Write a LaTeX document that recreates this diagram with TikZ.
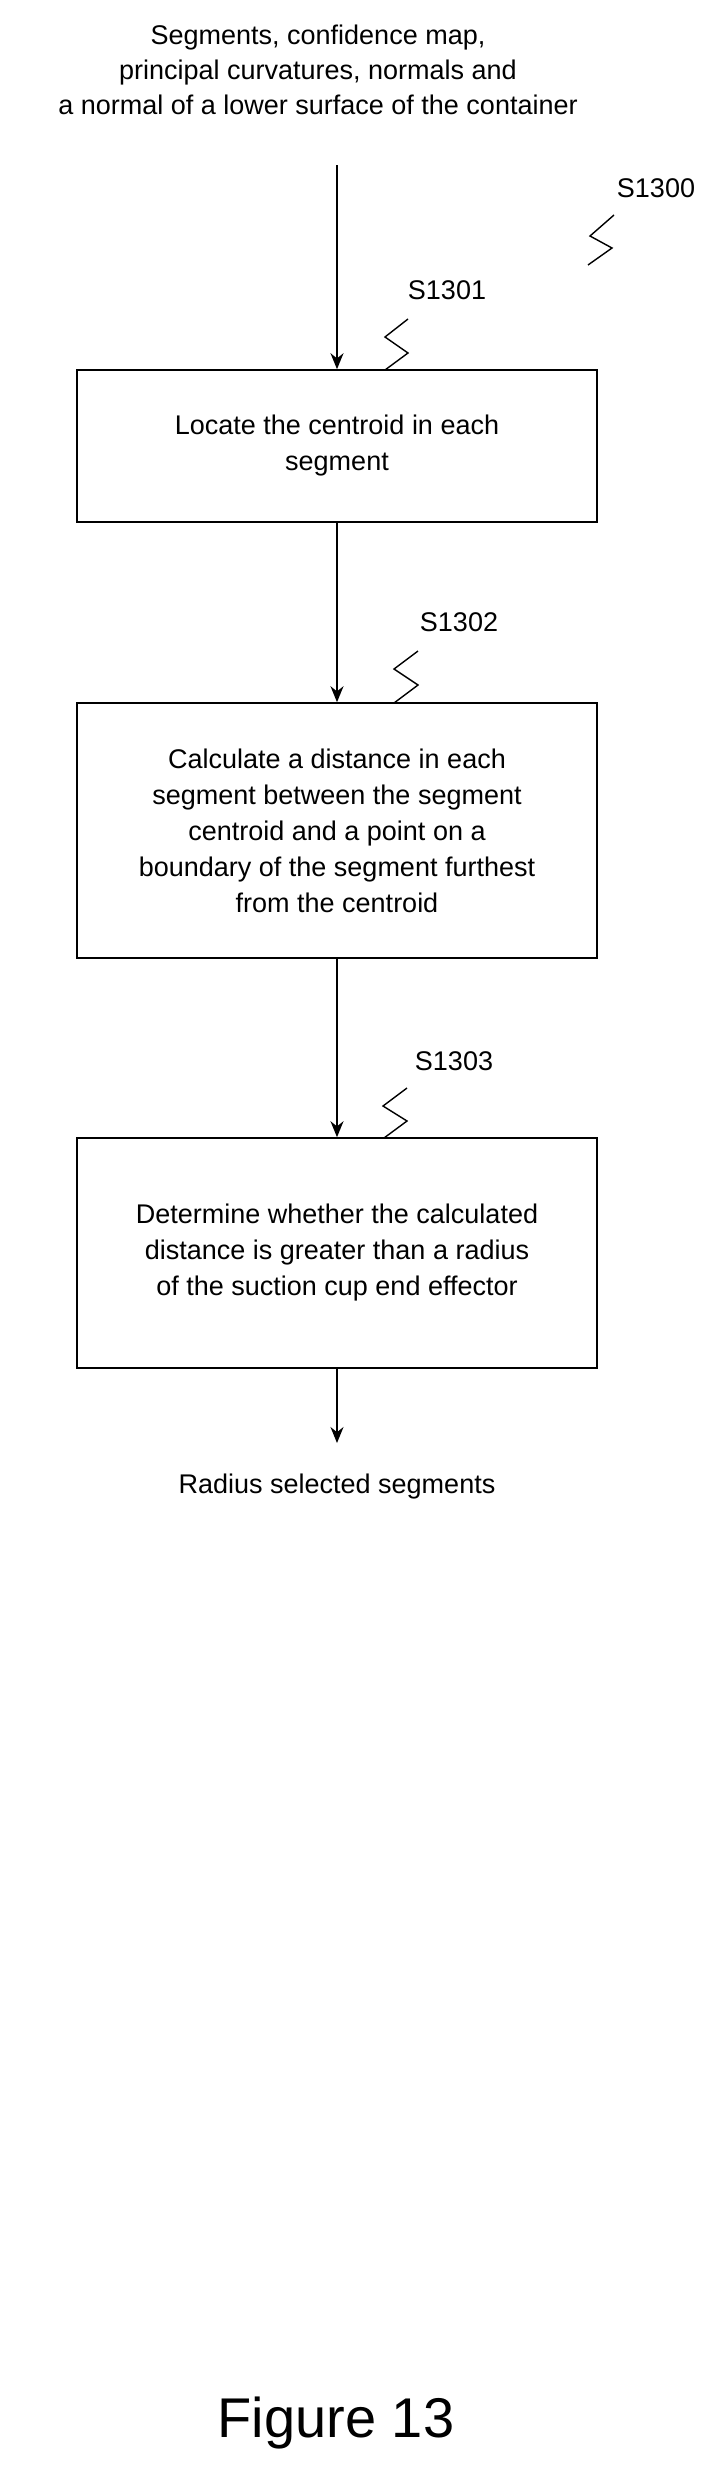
\documentclass[tikz,border=0pt]{standalone}
\usepackage{fontspec}
\setmainfont{Liberation Sans}
\usetikzlibrary{arrows.meta}
\usetikzlibrary{positioning}

\tikzset{
  stepbox/.style={draw, line width=1.6pt, minimum width=520pt, align=center,
    font=\fontsize{27}{36}\selectfont},
  note/.style={align=center, font=\fontsize{27}{35}\selectfont},
  flow/.style={line width=1.8pt, -{Stealth[length=16pt,width=13pt]}},
  squig/.style={line width=1.4pt}
}

\begin{document}
\begin{tikzpicture}[x=1pt, y=-1pt]
  \useasboundingbox (0,0) rectangle (716,2476);

  \node [note] (in) at (318,70)
    {Segments, confidence map,\\principal curvatures, normals and\\a normal of a lower surface of the container};
  \coordinate (in_end) at (337,165);

  \node [stepbox, minimum height=152pt] (s1301) at (337,446)
    {Locate the centroid in each\\segment};
  \node [stepbox, minimum height=255pt] (s1302) at (337,830.5)
    {Calculate a distance in each\\segment between the segment\\centroid and a point on a\\boundary of the segment furthest\\from the centroid};
  \node [stepbox, minimum height=230pt] (s1303) at (337,1253)
    {Determine whether the calculated\\distance is greater than a radius\\of the suction cup end effector};

  \node [note] (out) at (337,1487) {Radius selected segments};
  \coordinate (out_end) at (337,1443);

  \node [note] (lab_s1300) at (656,188) {S1300};
  \node [note] (lab_s1301) at (447,290) {S1301};
  \node [note] (lab_s1302) at (459,622) {S1302};
  \node [note] (lab_s1303) at (454,1061) {S1303};

  \node [font=\fontsize{56}{60}\selectfont] (fig) at (336,2423) {Figure 13};

  \draw [flow] (in_end) -- (s1301);
  \draw [flow] (s1301) -- (s1302);
  \draw [flow] (s1302) -- (s1303);
  \draw [flow] (s1303.south -| out_end) -- (out_end);

  % reference squiggles
  \draw [squig] (614,215) -- (590,236) -- (612,248) -- (588,265);
  \draw [squig] (408,319) -- (385,337) -- (408,353) -- (385,370);
  \draw [squig] (418,651) -- (394,669) -- (418,685) -- (394,703);
  \draw [squig] (407,1088) -- (383,1106) -- (407,1121) -- (384,1138);
\end{tikzpicture}
\end{document}
